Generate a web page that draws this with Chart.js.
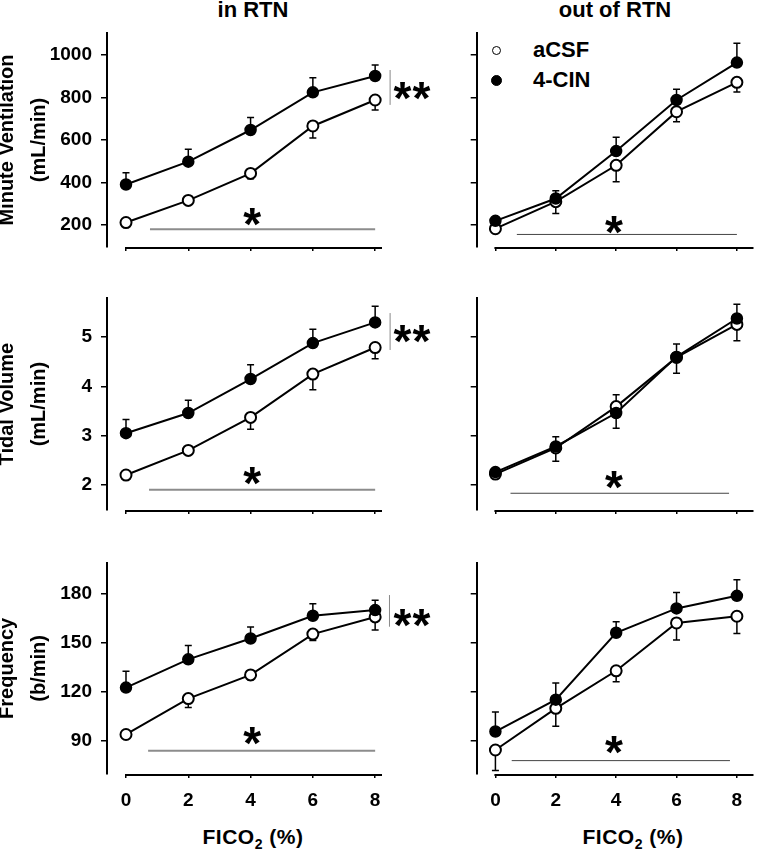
<!DOCTYPE html>
<html>
<head>
<meta charset="utf-8">
<script src="https://cdn.jsdelivr.net/npm/chart.js@4.4.1/dist/chart.umd.min.js"></script>
<style>
  html, body { margin: 0; padding: 0; background: #fff; }
  #wrap { position: relative; width: 761px; height: 853px; overflow: hidden;
          font-family: "Liberation Sans", Arial, Helvetica, sans-serif; font-weight: bold; color: #000; }
  #wrap canvas { position: absolute; }
  .txt { position: absolute; white-space: nowrap; transform: translate(-50%, -50%); line-height: 1; }
  .txt sub { font-size: 14px; vertical-align: -5px; }
  .leg { position: absolute; left: 380px; top: 0; font-size: 22px; }
  .leg div { position: absolute; white-space: nowrap; line-height: 1; }
  .leg span { position: absolute; border-radius: 50%; box-sizing: border-box; border: 1.5px solid #000; }
</style>
</head>
<body>
<div id="wrap">
  <div class="txt" style="left:253px;top:10px;font-size:22px">in RTN</div>
  <div class="txt" style="left:615px;top:10px;font-size:22px">out of RTN</div>
  <div class="txt" style="left:253px;top:838px;font-size:21px;letter-spacing:0.5px">FICO<sub>2</sub> (%)</div>
  <div class="txt" style="left:633px;top:838px;font-size:21px;letter-spacing:0.5px">FICO<sub>2</sub> (%)</div>
  <div class="leg" id="legend"></div>
</div>
<script>
// FICO2 levels (%)
const fico2 = [0, 2, 4, 6, 8];
const xTicks = [0, 2, 4, 6, 8];
const mvTicks = [200, 400, 600, 800, 1000];
const vtTicks = [2, 3, 4, 5];
const fTicks = [90, 120, 150, 180];

// minute ventilation (mL/min)
const mvInAcsf = [212, 316, 443, 666, 788];
const mvInAcsfErr = [8, 10, 25, 57, 47];
const mvIn4cin = [391, 498, 647, 824, 901];
const mvIn4cinErr = [55, 58, 59, 69, 52];
const mvOutAcsf = [183, 310, 481, 733, 871];
const mvOutAcsfErr = [10, 55, 77, 47, 45];
const mvOut4cin = [220, 325, 548, 788, 964];
const mvOut4cinErr = [10, 37, 65, 50, 91];

// tidal volume
const vtInAcsf = [2.20, 2.70, 3.37, 4.25, 4.79];
const vtInAcsfErr = [0.05, 0.08, 0.24, 0.32, 0.23];
const vtIn4cin = [3.05, 3.46, 4.15, 4.88, 5.30];
const vtIn4cinErr = [0.28, 0.26, 0.29, 0.28, 0.33];
const vtOutAcsf = [2.22, 2.75, 3.59, 4.59, 5.26];
const vtOutAcsfErr = [0.08, 0.27, 0.44, 0.32, 0.33];
const vtOut4cin = [2.26, 2.78, 3.46, 4.60, 5.38];
const vtOut4cinErr = [0.08, 0.20, 0.37, 0.26, 0.29];

// frequency (b/min)
const fInAcsf = [94, 116, 130.5, 155.5, 166];
const fInAcsfErr = [2, 5.5, 3, 4, 8];
const fIn4cin = [122.7, 140, 152.8, 166.7, 170.2];
const fIn4cinErr = [10, 8.5, 7, 7.3, 6];
const fOutAcsf = [84.5, 110, 133, 162.3, 166.4];
const fOutAcsfErr = [12.5, 11, 6.7, 10.5, 10.6];
const fOut4cin = [95.8, 115.3, 156.3, 171.2, 178.9];
const fOut4cinErr = [12, 10.3, 6.7, 9.7, 9.9];

// significance marks, in data units: line x0..x1 at y, star at (sx, sy)
const sigMvIn = { x0: 0.77, x1: 8, y: 180, sx: 4.05, sy: 238 };
const sigMvOut = { x0: 0.71, x1: 8, y: 156, sx: 3.93, sy: 200 };
const sigVtIn = { x0: 0.74, x1: 8, y: 1.9, sx: 4.05, sy: 2.18 };
const sigVtOut = { x0: 0.5, x1: 7.74, y: 1.83, sx: 3.93, sy: 2.1 };
const sigFIn = { x0: 0.71, x1: 8, y: 84, sx: 4.05, sy: 92.6 };
const sigFOut = { x0: 0.54, x1: 7.77, y: 78, sx: 3.93, sy: 87 };
// between-group brackets (**): line at x from y0 to y1, stars at tx, height ty
const brMvIn = { x: 8.48, y0: 765, y1: 929, tx: [8.88, 9.49], ty: 827 };
const brVtIn = { x: 8.48, y0: 4.74, y1: 5.49, tx: [8.88, 9.49], ty: 5.05 };
const brFIn = { x: 8.46, y0: 160, y1: 179.4, tx: [8.88, 9.49], ty: 165.1 };

const rows = [
  { top: 0, h: 270, areaTop: 33, areaBottom: 247 },
  { top: 270, h: 270, areaTop: 298.3, areaBottom: 510 },
  { top: 540, h: 313, areaTop: 562.7, areaBottom: 774 },
];

const panels = [
  { row: 0, col: 0, acsf: mvInAcsf, acsfErr: mvInAcsfErr, cin: mvIn4cin, cinErr: mvIn4cinErr, ticks: mvTicks, min: 97, max: 1103, title: ['Minute Ventilation', '(mL/min)'], sig: sigMvIn, br: brMvIn },
  { row: 0, col: 1, acsf: mvOutAcsf, acsfErr: mvOutAcsfErr, cin: mvOut4cin, cinErr: mvOut4cinErr, ticks: mvTicks, min: 97, max: 1103, sig: sigMvOut },
  { row: 1, col: 0, acsf: vtInAcsf, acsfErr: vtInAcsfErr, cin: vtIn4cin, cinErr: vtIn4cinErr, ticks: vtTicks, min: 1.49, max: 5.79, title: ['Tidal Volume', '(mL/min)'], sig: sigVtIn, br: brVtIn },
  { row: 1, col: 1, acsf: vtOutAcsf, acsfErr: vtOutAcsfErr, cin: vtOut4cin, cinErr: vtOut4cinErr, ticks: vtTicks, min: 1.49, max: 5.79, sig: sigVtOut },
  { row: 2, col: 0, acsf: fInAcsf, acsfErr: fInAcsfErr, cin: fIn4cin, cinErr: fIn4cinErr, ticks: fTicks, min: 69.8, max: 199.2, title: ['Frequency', '(b/min)'], sig: sigFIn, br: brFIn },
  { row: 2, col: 1, acsf: fOutAcsf, acsfErr: fOutAcsfErr, cin: fOut4cin, cinErr: fOut4cinErr, ticks: fTicks, min: 69.8, max: 199.2, sig: sigFOut },
];

const FONT = '"Liberation Sans", Arial, Helvetica, sans-serif';
const STAR = 46;
Chart.defaults.font.family = FONT;
Chart.defaults.font.weight = 'bold';
Chart.defaults.color = '#000';

function star(ctx, x, y) {
  ctx.fillText('*', x, y + 0.49 * STAR);
}

// error bars, x baseline, significance lines and stars
const annotate = {
  id: 'annotate',
  beforeDatasetsDraw(chart) {
    const { ctx, chartArea } = chart;
    const xs = chart.scales.x, ys = chart.scales.y;
    ctx.save();
    ctx.strokeStyle = '#000';
    ctx.lineWidth = 2;
    ctx.beginPath();
    ctx.moveTo(xs.getPixelForValue(xTicks[0]) - 1, chartArea.bottom + 1);
    ctx.lineTo(chartArea.right, chartArea.bottom + 1);
    ctx.stroke();
    ctx.lineWidth = 1.5;
    chart.data.datasets.forEach(ds => {
      ds.data.forEach((pt, i) => {
        const x = xs.getPixelForValue(pt.x);
        const y0 = ys.getPixelForValue(pt.y);
        const y1 = ys.getPixelForValue(pt.y + ds.errDir * ds.err[i]);
        ctx.beginPath();
        ctx.moveTo(x, y0);
        ctx.lineTo(x, y1);
        ctx.moveTo(x - 3.5, y1);
        ctx.lineTo(x + 3.5, y1);
        ctx.stroke();
      });
    });
    ctx.restore();
  },
  afterDatasetsDraw(chart, args, opts) {
    const { ctx } = chart;
    const xs = chart.scales.x, ys = chart.scales.y;
    ctx.save();
    ctx.fillStyle = '#000';
    ctx.font = `bold ${STAR}px ${FONT}`;
    ctx.textAlign = 'center';
    ctx.textBaseline = 'alphabetic';
    const s = opts.sig;
    if (s) {
      ctx.strokeStyle = opts.sigColor;
      ctx.lineWidth = opts.sigWidth;
      ctx.beginPath();
      ctx.moveTo(xs.getPixelForValue(s.x0), ys.getPixelForValue(s.y));
      ctx.lineTo(xs.getPixelForValue(s.x1), ys.getPixelForValue(s.y));
      ctx.stroke();
      star(ctx, xs.getPixelForValue(s.sx), ys.getPixelForValue(s.sy));
    }
    const b = opts.br;
    if (b) {
      ctx.strokeStyle = '#888';
      ctx.lineWidth = 1;
      ctx.beginPath();
      ctx.moveTo(xs.getPixelForValue(b.x), ys.getPixelForValue(b.y0));
      ctx.lineTo(xs.getPixelForValue(b.x), ys.getPixelForValue(b.y1));
      ctx.stroke();
      b.tx.forEach(tx => star(ctx, xs.getPixelForValue(tx), ys.getPixelForValue(b.ty)));
    }
    ctx.restore();
  },
};

const wrap = document.getElementById('wrap');

function makeChart(p) {
  const left = p.col === 0;
  const g = rows[p.row];
  const cw = left ? 440 : 381;
  const canvas = document.createElement('canvas');
  canvas.width = cw;
  canvas.height = g.h;
  canvas.style.left = (left ? 0 : 380) + 'px';
  canvas.style.top = g.top + 'px';
  wrap.appendChild(canvas);

  const series = (vals) => fico2.map((x, i) => ({ x, y: vals[i] }));

  return new Chart(canvas, {
    type: 'line',
    data: {
      datasets: [
        { label: '4-CIN', data: series(p.cin), err: p.cinErr, errDir: 1, order: 0,
          borderColor: '#000', borderWidth: 2, pointRadius: 5.5, pointBorderWidth: 1.5,
          pointBackgroundColor: '#000', pointBorderColor: '#000', tension: 0 },
        { label: 'aCSF', data: series(p.acsf), err: p.acsfErr, errDir: -1, order: 1,
          borderColor: '#000', borderWidth: 2, pointRadius: 5.5, pointBorderWidth: 2,
          pointBackgroundColor: '#fff', pointBorderColor: '#000', tension: 0 },
      ],
    },
    options: {
      responsive: false,
      animation: false,
      events: [],
      layout: { padding: { top: g.areaTop - g.top, right: left ? cw - 382 : 0, bottom: 0, left: 0 } },
      plugins: {
        legend: { display: false },
        tooltip: { enabled: false },
        annotate: { sig: p.sig, br: p.br, sigColor: left ? '#8c8c8c' : '#444', sigWidth: left ? 2 : 1 },
      },
      scales: {
        x: {
          type: 'linear',
          min: left ? -0.61 : -0.62,
          max: left ? 8.22 : 8.55,
          afterBuildTicks: s => { s.ticks = xTicks.map(v => ({ value: v })); },
          afterFit: s => { s.height = g.top + g.h - g.areaBottom; },
          border: { display: false },
          grid: { drawOnChartArea: false, drawTicks: true, tickLength: 4, color: '#000', lineWidth: 1.5 },
          ticks: { display: p.row === 2, padding: 11, font: { size: 19 }, callback: v => String(v) },
        },
        y: {
          min: p.min,
          max: p.max,
          afterBuildTicks: s => { s.ticks = p.ticks.map(v => ({ value: v })); },
          afterFit: s => { s.width = left ? 107 : 96.7; },
          border: { display: true, color: '#000', width: 2 },
          grid: { drawOnChartArea: false, drawTicks: true, tickLength: 6, color: '#000', lineWidth: 1.5 },
          ticks: { display: left, padding: 9, font: { size: 19 }, callback: v => String(v) },
          title: { display: left, text: p.title || '', font: { size: 20, lineHeight: 1.575 }, padding: { top: -8.25, bottom: 0 } },
        },
      },
    },
    plugins: [annotate],
  });
}

const charts = panels.map(makeChart);

// legend inside the upper right panel, built from the datasets
const legendItems = [
  { label: 'aCSF', d: 9, cy: 50 },
  { label: '4-CIN', d: 11, cy: 80 },
];
const leg = document.getElementById('legend');
const ds = charts[1].data.datasets;
legendItems.forEach(item => {
  const d = ds.find(x => x.label === item.label);
  const dot = document.createElement('span');
  dot.style.cssText = `left:${116.7 - item.d / 2}px;top:${item.cy - item.d / 2}px;width:${item.d}px;height:${item.d}px;background:${d.pointBackgroundColor}`;
  leg.appendChild(dot);
  const t = document.createElement('div');
  t.textContent = d.label;
  t.style.cssText = `left:153px;top:${item.cy - 11}px`;
  leg.appendChild(t);
});
</script>
</body>
</html>
